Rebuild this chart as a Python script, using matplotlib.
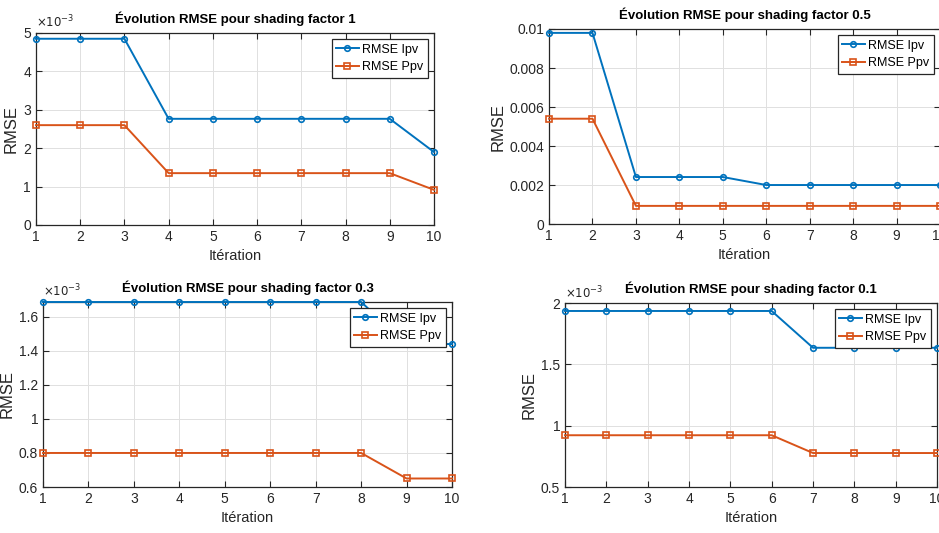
import matplotlib.pyplot as plt
from matplotlib.ticker import FuncFormatter

iterations = list(range(1, 11))

# shading factor 1
ipv_sf1 = [4.85e-3, 4.85e-3, 4.85e-3, 2.765e-3, 2.765e-3, 2.765e-3, 2.765e-3, 2.765e-3, 2.765e-3, 1.90e-3]
ppv_sf1 = [2.60e-3, 2.60e-3, 2.60e-3, 1.35e-3, 1.35e-3, 1.35e-3, 1.35e-3, 1.35e-3, 1.35e-3, 0.915e-3]
# shading factor 0.5
ipv_sf05 = [0.0098, 0.0098, 0.00241, 0.00241, 0.00241, 0.0020, 0.0020, 0.0020, 0.0020, 0.0020]
ppv_sf05 = [0.0054, 0.0054, 0.00093, 0.00093, 0.00093, 0.00093, 0.00093, 0.00093, 0.00093, 0.00093]
# shading factor 0.3
ipv_sf03 = [1.687e-3, 1.687e-3, 1.687e-3, 1.687e-3, 1.687e-3, 1.687e-3, 1.687e-3, 1.687e-3, 1.44e-3, 1.44e-3]
ppv_sf03 = [0.80e-3, 0.80e-3, 0.80e-3, 0.80e-3, 0.80e-3, 0.80e-3, 0.80e-3, 0.80e-3, 0.65e-3, 0.65e-3]
# shading factor 0.1
ipv_sf01 = [1.935e-3, 1.935e-3, 1.935e-3, 1.935e-3, 1.935e-3, 1.935e-3, 1.635e-3, 1.635e-3, 1.635e-3, 1.635e-3]
ppv_sf01 = [0.922e-3, 0.922e-3, 0.922e-3, 0.922e-3, 0.922e-3, 0.922e-3, 0.777e-3, 0.777e-3, 0.777e-3, 0.777e-3]

plt.rcParams['font.family'] = ['Liberation Sans Narrow', 'Liberation Sans', 'DejaVu Sans']

BLUE = '#0072BD'
ORANGE = '#D95319'
DARK = '#262626'

fig = plt.figure(figsize=(9.39, 5.33), dpi=100)

panels = [
    # rect, shading factor, ipv, ppv, ylim, yticks, scaled x1e-3
    ([0.0383, 0.5779, 0.4239, 0.3602], '1', ipv_sf1, ppv_sf1, (0, 5e-3),
     [0, 1e-3, 2e-3, 3e-3, 4e-3, 5e-3], True),
    ([0.5847, 0.5797, 0.4164, 0.3659], '0.5', ipv_sf05, ppv_sf05, (0, 0.01),
     [0, 0.002, 0.004, 0.006, 0.008, 0.01], False),
    ([0.0458, 0.0863, 0.4356, 0.3471], '0.3', ipv_sf03, ppv_sf03, (0.6e-3, 1.687e-3),
     [0.6e-3, 0.8e-3, 1.0e-3, 1.2e-3, 1.4e-3, 1.6e-3], True),
    ([0.6017, 0.0863, 0.3962, 0.3452], '0.1', ipv_sf01, ppv_sf01, (0.5e-3, 2e-3),
     [0.5e-3, 1e-3, 1.5e-3, 2e-3], True),
]

for rect, sf, ipv, ppv, ylim, yticks, scaled in panels:
    ax = fig.add_axes(rect)
    ax.plot(iterations, ipv, '-o', color=BLUE, lw=1.4, ms=4, mfc='none', mew=1.2,
            label='RMSE Ipv', clip_on=False, zorder=3)
    ax.plot(iterations, ppv, '-s', color=ORANGE, lw=1.4, ms=4, mfc='none', mew=1.2,
            label='RMSE Ppv', clip_on=False, zorder=3)
    ax.set_xlim(1, 10)
    ax.set_ylim(*ylim)
    ax.set_xticks(iterations)
    ax.set_yticks(yticks)
    if scaled:
        ax.yaxis.set_major_formatter(FuncFormatter(lambda v, p: '%g' % round(v * 1e3, 6)))
        ax.text(0, 1.012, r'$\times10^{-3}$', transform=ax.transAxes, ha='left', va='bottom',
                fontsize=8.5, color=DARK, family='DejaVu Sans')
    else:
        ax.yaxis.set_major_formatter(FuncFormatter(lambda v, p: '%g' % round(v, 6)))
    ax.grid(True, color='#e0e0e0', lw=0.7)
    ax.set_axisbelow(True)
    ax.tick_params(direction='in', top=True, right=True, labelsize=10, colors=DARK,
                   length=4, width=0.8)
    for s in ax.spines.values():
        s.set_color(DARK)
        s.set_linewidth(0.9)
    ax.set_title('Évolution RMSE pour shading factor ' + sf, fontsize=9.5,
                 fontweight='bold', pad=7, color='black')
    ax.set_xlabel('Itération', fontsize=10.5, color=DARK, labelpad=4)
    ax.set_ylabel('RMSE', fontsize=12, color=DARK, family=['Liberation Sans', 'DejaVu Sans'],
                  labelpad=3)
    leg = ax.legend(loc='upper right', fontsize=9, handlelength=1.8, handletextpad=0.3,
                    borderpad=0.35, labelspacing=0.45, fancybox=False, framealpha=1,
                    edgecolor=DARK, borderaxespad=0.5)
    leg.get_frame().set_linewidth(0.9)

fig.savefig('out.png', dpi=100)
